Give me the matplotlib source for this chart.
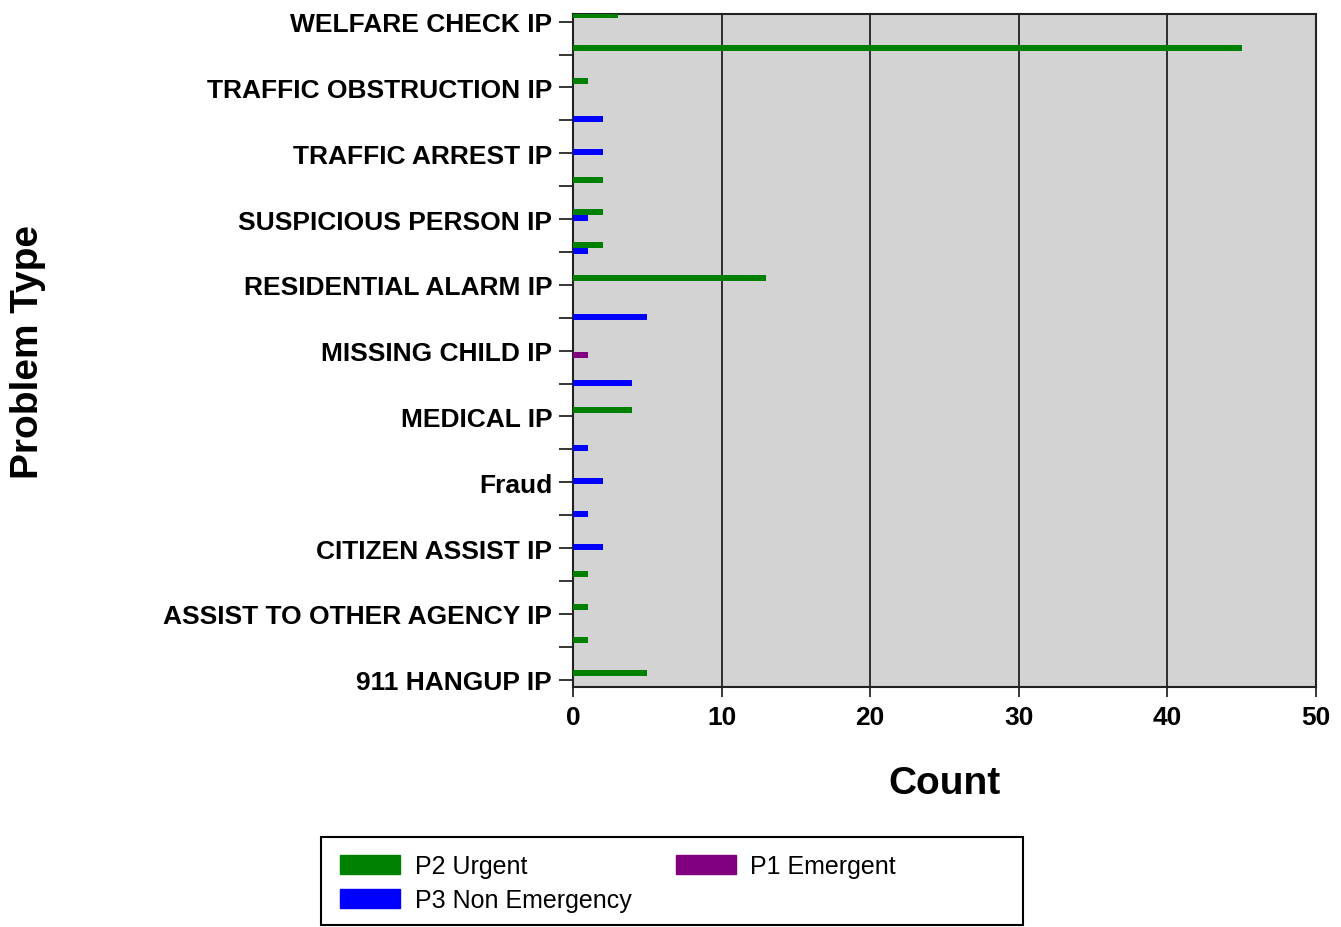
import numpy as np
import matplotlib
matplotlib.use('Agg')
import matplotlib.pyplot as plt
from matplotlib.patches import Patch, Rectangle

plt.rcParams['font.family'] = ['Liberation Sans', 'DejaVu Sans']

# categories bottom -> top, only every other one is labelled in the chart
problem_types = ['911 HANGUP IP', '', 'ASSIST TO OTHER AGENCY IP', '',
                 'CITIZEN ASSIST IP', '', 'Fraud', '', 'MEDICAL IP', '',
                 'MISSING CHILD IP', '', 'RESIDENTIAL ALARM IP', '',
                 'SUSPICIOUS PERSON IP', '', 'TRAFFIC ARREST IP', '',
                 'TRAFFIC OBSTRUCTION IP', '', 'WELFARE CHECK IP']
p2_urgent = [5, 1, 1, 1, 0, 0, 0, 0, 4, 0, 0, 0, 13, 2, 2, 2, 0, 0, 1, 45, 3]
p3_non_emergency = [0, 0, 0, 0, 2, 1, 2, 1, 0, 4, 0, 5, 0, 1, 1, 0, 2, 2, 0, 0, 0]
p1_emergent = [0, 0, 0, 0, 0, 0, 0, 0, 0, 0, 1, 0, 0, 0, 0, 0, 0, 0, 0, 0, 0]

series = [('P2 Urgent', p2_urgent, '#008000', 0.20),
          ('P3 Non Emergency', p3_non_emergency, '#0000ff', 0.03),
          ('P1 Emergent', p1_emergent, '#800080', -0.14)]

fig = plt.figure(figsize=(13.41, 9.28), dpi=100)
ax = fig.add_axes([573/1341, 1-688.3/928, (1316-573)/1341, (688.3-14.7)/928])
ax.set_facecolor('#d3d3d3')

y = np.arange(len(problem_types))
for name, vals, col, off in series:
    ax.barh(y + off, vals, height=0.18, color=col, zorder=3)

ax.set_xlim(0, 50)
ax.set_ylim(-0.23, 20.24)
ax.set_xticks([0, 10, 20, 30, 40, 50])
ax.set_yticks(y)
ax.set_yticklabels(problem_types)
for x in [10, 20, 30, 40]:
    ax.axvline(x, color='black', lw=1.1, zorder=2)

ax.tick_params(axis='y', length=10, width=1.1, pad=5, labelsize=19)
ax.tick_params(axis='x', length=7, width=1.1, pad=6, labelsize=19)
for lab in ax.get_xticklabels() + ax.get_yticklabels():
    lab.set_fontweight('bold')
for s in ax.spines.values():
    s.set_color('#222222')
    s.set_linewidth(1.5)

fig.text(944/1341, 1-784/928, 'Count', ha='center', va='center',
         fontsize=28, fontweight='bold')
fig.text(28/1341, 1-352/928, 'Problem Type', ha='center', va='center',
         rotation=90, fontsize=28, fontweight='bold')

handles = [Patch(facecolor=c, edgecolor=c, label=n) for n, _, c, _ in series]
fig.legend(handles=handles, loc='upper left', ncol=2,
           bbox_to_anchor=(340/1341, 1-855/928), frameon=False,
           fontsize=18, handlelength=2.4, handleheight=0.8,
           handletextpad=0.6, columnspacing=1.75, labelspacing=0.4,
           borderpad=0, borderaxespad=0)
fig.patches.append(Rectangle((321/1341, 0.002), (1023-321)/1341, (926-838)/928,
                             transform=fig.transFigure, fill=False,
                             edgecolor='black', lw=1.5))

fig.savefig('out.png', dpi=100)
